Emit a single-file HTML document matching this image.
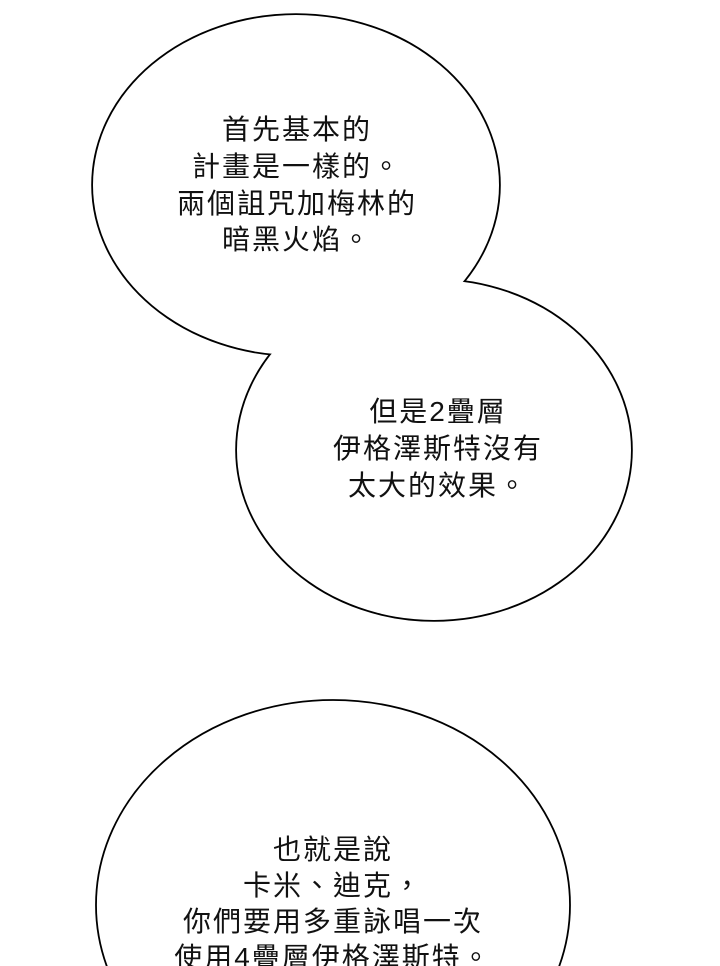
<!DOCTYPE html>
<html><head><meta charset="utf-8"><style>
html,body{margin:0;padding:0;background:#fff;overflow:hidden;width:720px;height:966px;}
svg{display:block;}
text{font-family:"Liberation Sans","Noto Sans CJK TC",sans-serif;font-size:28px;letter-spacing:2px;fill:#111;text-anchor:middle;}
</style></head><body>
<svg width="720" height="966" viewBox="0 0 720 966">
<rect width="720" height="966" fill="#fff"/>
<ellipse cx="296" cy="185" rx="203" ry="170" fill="none" stroke="#000" stroke-width="3.6"/>
<ellipse cx="434" cy="450" rx="197" ry="170" fill="none" stroke="#000" stroke-width="3.6"/>
<ellipse cx="296" cy="185" rx="203" ry="170" fill="#fff"/>
<ellipse cx="434" cy="450" rx="197" ry="170" fill="#fff"/>
<ellipse cx="333" cy="905" rx="237" ry="205" fill="#fff" stroke="#000" stroke-width="1.8"/>
<text x="297" y="139">首先基本的</text>
<text x="297" y="176">計畫是一樣的。</text>
<text x="297" y="213">兩個詛咒加梅林的</text>
<text x="297" y="249">暗黑火焰。</text>
<text x="438" y="421">但是2疊層</text>
<text x="438" y="458">伊格澤斯特沒有</text>
<text x="438" y="495">太大的效果。</text>
<text x="333" y="859">也就是說</text>
<text x="333" y="895">卡米、迪克，</text>
<text x="333" y="931">你們要用多重詠唱一次</text>
<text x="333" y="967">使用4疊層伊格澤斯特。</text>
</svg>
</body></html>
